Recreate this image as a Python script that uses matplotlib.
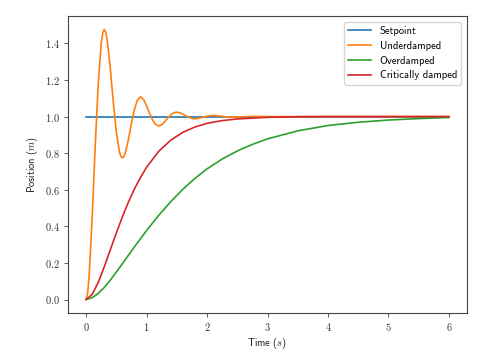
import matplotlib
matplotlib.use("Agg")
import matplotlib.pyplot as plt
from matplotlib.ticker import FuncFormatter

# values
setpoint_t = [0.0, 6.0]
setpoint_y = [1.0, 1.0]

under_t = [0.0, 0.025, 0.05, 0.10, 0.15, 0.20, 0.25, 0.275, 0.30, 0.325, 0.35,
           0.40, 0.45, 0.50, 0.55, 0.575, 0.60, 0.625, 0.65, 0.70, 0.75, 0.80,
           0.85, 0.90, 0.95, 1.00, 1.05, 1.10, 1.15, 1.20, 1.25, 1.30, 1.35,
           1.40, 1.45, 1.50, 1.55, 1.60, 1.65, 1.70, 1.75, 1.80, 1.85, 1.90,
           1.95, 2.00, 2.05, 2.10, 2.15, 2.20, 2.25, 2.30, 2.35, 2.40, 2.6,
           2.8, 3.0, 4.0, 5.0, 6.0]
under_y = [0.0, 0.035, 0.131, 0.450, 0.837, 1.180, 1.403, 1.458, 1.476, 1.460, 1.414,
           1.262, 1.077, 0.914, 0.808, 0.782, 0.774, 0.781, 0.803, 0.875, 0.963, 1.041,
           1.091, 1.108, 1.094, 1.059, 1.018, 0.981, 0.957, 0.949, 0.955, 0.972, 0.992,
           1.009, 1.021, 1.024, 1.021, 1.013, 1.004, 0.996, 0.990, 0.988, 0.990, 0.994,
           0.998, 1.002, 1.005, 1.006, 1.005, 1.003, 1.001, 0.999, 0.998, 0.997, 0.999,
           1.001, 1.0, 1.0, 1.0, 1.0]

over_t = [0.0, 0.1, 0.2, 0.3, 0.4, 0.5, 0.6, 0.7, 0.8, 0.9, 1.0, 1.2, 1.4, 1.6,
          1.8, 2.0, 2.25, 2.5, 2.75, 3.0, 3.5, 4.0, 4.5, 5.0, 5.5, 6.0]
over_y = [0.0, 0.010, 0.033, 0.066, 0.106, 0.150, 0.196, 0.242, 0.288, 0.333, 0.377,
          0.460, 0.535, 0.603, 0.662, 0.714, 0.768, 0.812, 0.848, 0.878, 0.922, 0.951,
          0.969, 0.981, 0.989, 0.995]

crit_t = [0.0, 0.1, 0.2, 0.3, 0.4, 0.5, 0.6, 0.7, 0.8, 0.9, 1.0, 1.2, 1.4, 1.6,
          1.8, 2.0, 2.25, 2.5, 3.0, 3.5, 4.0, 5.0, 6.0]
crit_y = [0.0, 0.028, 0.093, 0.179, 0.272, 0.364, 0.452, 0.533, 0.605, 0.668, 0.723,
          0.810, 0.871, 0.914, 0.943, 0.963, 0.978, 0.987, 0.996, 0.999, 1.0, 1.0, 1.0]

plt.rcParams['font.family'] = 'cmss10'
plt.rcParams['mathtext.fontset'] = 'cm'
plt.rcParams['axes.unicode_minus'] = False

fig = plt.figure(figsize=(4.78, 3.58), dpi=100)
ax = fig.add_axes([68 / 478, 45 / 358, 399 / 478, 297 / 358])

lw = 1.2
ax.plot(setpoint_t, setpoint_y, color='tab:blue', lw=lw, label='Setpoint')
ax.plot(under_t, under_y, color='tab:orange', lw=lw, label='Underdamped')
ax.plot(over_t, over_y, color='tab:green', lw=lw, label='Overdamped')
ax.plot(crit_t, crit_y, color='tab:red', lw=lw, label='Critically damped')

ax.xaxis.set_major_formatter(FuncFormatter(lambda v, p: f'${v:g}$'))
ax.yaxis.set_major_formatter(FuncFormatter(lambda v, p: f'${v:.1f}$'))
ax.set_yticks([0.0, 0.2, 0.4, 0.6, 0.8, 1.0, 1.2, 1.4])

for s in ax.spines.values():
    s.set_color('#444444')
    s.set_linewidth(0.8)
ax.tick_params(colors='#444444', labelsize=7.5, length=2.6, width=0.6, labelcolor='#333333')

ax.set_xlabel('Time ($s$)', fontsize=7.5, color='#222222', labelpad=2)
ax.set_ylabel('Position ($m$)', fontsize=7.5, color='#222222', labelpad=3)

ax.legend(loc='upper right', fontsize=7.6, handlelength=2.2, handletextpad=0.8,
          labelspacing=0.45, borderaxespad=0.55)

fig.savefig('out.png', dpi=100)
